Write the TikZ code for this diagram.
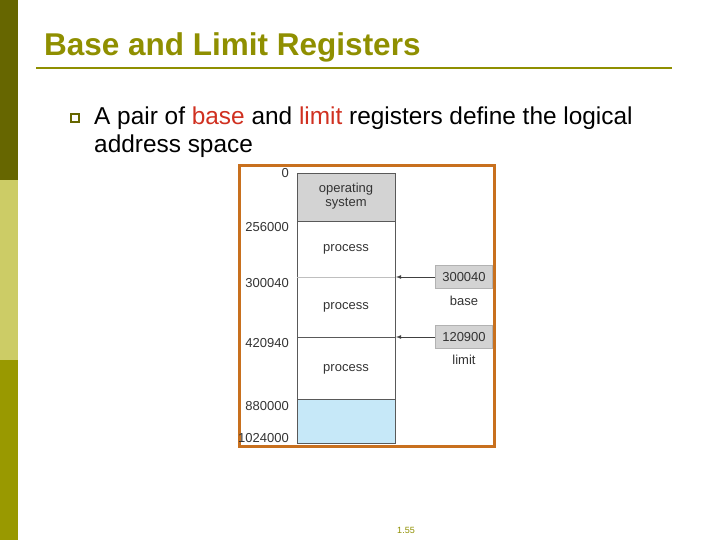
\documentclass[tikz,border=0pt]{standalone}
\usepackage{fontspec}
\setmainfont{Liberation Sans}
\definecolor{oliveA}{HTML}{666600}
\definecolor{oliveB}{HTML}{CCCC66}
\definecolor{oliveC}{HTML}{999900}
\definecolor{ttl}{HTML}{8F8F00}
\definecolor{frm}{HTML}{C8701E}
\definecolor{osgray}{HTML}{D3D3D3}
\definecolor{freeblue}{HTML}{C6E8F8}
\definecolor{regred}{HTML}{D03020}
\begin{document}
\begin{tikzpicture}[x=1pt,y=-1pt,
  lab/.style={font=\fontsize{13}{14}\selectfont, text=black!80, inner sep=0pt},
  addr/.style={lab, anchor=east},
  reg/.style={draw=gray!60, fill=osgray, minimum width=57pt, minimum height=23pt, inner sep=0pt, font=\fontsize{13}{14}\selectfont, text=black!80}]
\useasboundingbox (0,0) rectangle (720,540);
\fill[oliveA] (0,0) rectangle (18,180);
\fill[oliveB] (0,180) rectangle (18,360);
\fill[oliveC] (0,360) rectangle (18,540);
\node[anchor=base west, inner sep=0pt, font=\bfseries\fontsize{31.5}{34}\selectfont, text=ttl] (title) at (44,56) {Base and Limit Registers};
\draw[ttl, line width=1.2pt] (36,68) -- (672,68);
\node[draw=oliveA, line width=1.3pt, minimum size=8pt, inner sep=0pt] (bul) at (75,118) {};
\node[anchor=base west, inner sep=0pt, align=left, font=\fontsize{24.4}{28}\selectfont] (txt) at (94,153) {A pair of \textcolor{regred}{base} and \textcolor{regred}{limit} registers define the logical\\address space};
\draw[frm, line width=3pt] (239,166) rectangle (494,446);
\fill[osgray] (297,173) rectangle (395,221);
\fill[freeblue] (297,399) rectangle (395,443);
\draw[gray!70!black, line width=0.6pt] (297,173) rectangle (395,443);
\draw[gray!70!black] (297,221) -- (395,221);
\draw[gray!50] (297,277) -- (395,277);
\draw[gray!70!black] (297,337) -- (395,337);
\draw[gray!70!black] (297,399) -- (395,399);
\node[lab, align=center] (os) at (346,196) {operating\\system};
\node[lab] (p1) at (346,249) {process};
\node[lab] (p2) at (346,307) {process};
\node[lab] (p3) at (346,369) {process};
\node[addr] (a0) at (289,173) {0};
\node[addr] (a1) at (289,227) {256000};
\node[addr] (a2) at (289,283) {300040};
\node[addr] (a3) at (289,343) {420940};
\node[addr] (a4) at (289,406) {880000};
\node[addr] (a5) at (289,438) {1024000};
\node[reg] (base) at (464,277) {300040};
\node[reg] (limit) at (464,337) {120900};
\node[lab] (bl) at (464,301) {base};
\node[lab] (ll) at (464,360) {limit};
\coordinate (t1) at (396,277);
\coordinate (t2) at (396,337);
\draw[-latex, black!75, line width=0.8pt] (base.west) -- (t1);
\draw[-latex, black!75, line width=0.8pt] (limit.west) -- (t2);
\node[font=\fontsize{9}{10}\selectfont, text=ttl] (pg) at (406,530) {1.55};
\end{tikzpicture}
\end{document}
